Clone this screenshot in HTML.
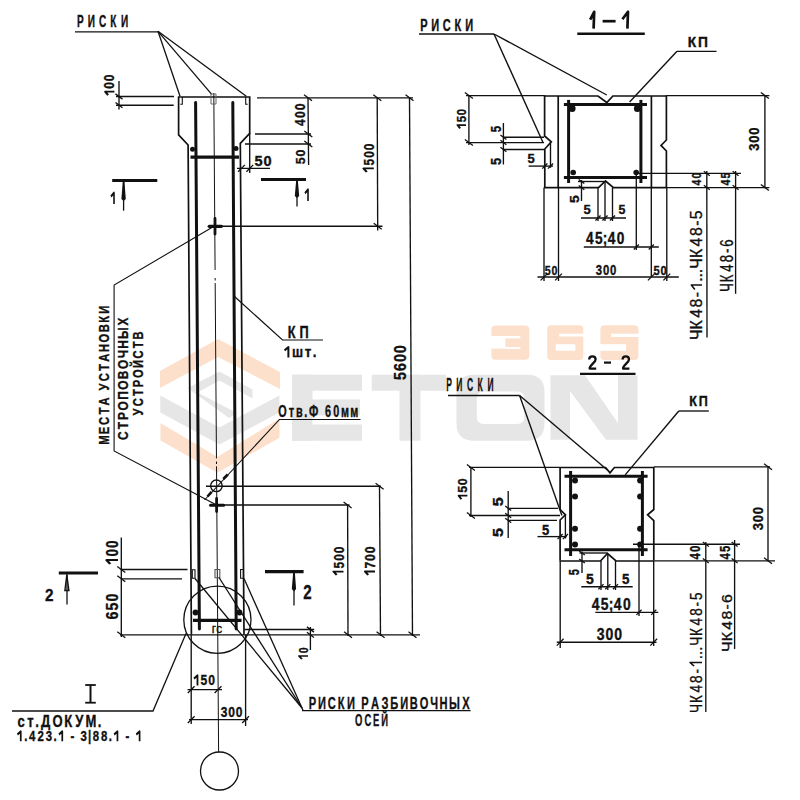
<!DOCTYPE html>
<html><head><meta charset="utf-8"><style>
html,body{margin:0;padding:0;background:#fff;}
svg{display:block;}
text{font-family:"Liberation Sans",sans-serif;stroke:#111;stroke-width:0.35px;}
</style></head><body>
<svg width="800" height="800" viewBox="0 0 800 800">
<rect width="800" height="800" fill="#fff"/>
<path d="M160.0,371.0 L218.0,339.0 L280.0,372.0 L280.0,389.0 L218.0,357.0 L160.0,388.0 Z" fill="#fde0cb"/>
<path d="M160.5,422.9 L217.4,457.0 L279.5,418.5 L279.5,437.8 L217.4,472.8 L160.5,440.4 Z" fill="#fde0cb"/>
<path d="M187.5,388.0 L219.4,371.5 L252.5,389.5 L252.5,398.5 L219.4,380.5 L197.5,392.5 Z" fill="#e6e6e6"/>
<path d="M187.5,388.0 L197.5,392.5 L237.0,413.0 L229.0,418.0 Z" fill="#e6e6e6"/>
<path d="M160.3,395.6 L219.4,427.5 L279.4,395.6 L279.4,412.5 L219.4,444.4 L160.3,412.5 Z" fill="#e6e6e6"/>
<g fill="#e6e6e6"><rect x="292" y="374.7" width="20.5" height="66"/><rect x="292" y="374.7" width="70" height="16"/><rect x="292" y="399.5" width="68" height="16"/><rect x="292" y="424.5" width="70" height="16.2"/><rect x="371.7" y="374.7" width="74.3" height="16"/><rect x="399.5" y="374.7" width="21" height="66"/><path fill-rule="evenodd" d="M474,374.7 L527,374.7 Q544.5,374.7 544.5,392 L544.5,423.5 Q544.5,440.7 527,440.7 L474,440.7 Q456.5,440.7 456.5,423.5 L456.5,392 Q456.5,374.7 474,374.7 Z M484,391.5 Q476.8,391.5 476.8,398.5 L476.8,417 Q476.8,424 484,424 L517,424 Q524.3,424 524.3,417 L524.3,398.5 Q524.3,391.5 517,391.5 Z"/><path d="M550.5,439.7 L550.5,375.2 L585,375.2 L618,423.2 L618,375.2 L637.5,375.2 L637.5,439.7 L606,439.7 L570,391 L570,439.7 Z"/></g>
<g fill="#fde0cb"><rect x="491.4" y="325.4" width="37.9" height="34.3" rx="4"/><rect x="547.2" y="325.2" width="36.1" height="34.8" rx="4"/><rect x="600.4" y="325.2" width="38" height="34.8" rx="4"/></g>
<g fill="#fff"><rect x="490" y="336" width="15.3" height="12.6"/><rect x="505" y="336" width="15.3" height="2.4"/><rect x="505" y="347" width="15.3" height="1.9"/><rect x="559" y="333.7" width="25" height="2.8"/><rect x="555.7" y="344.2" width="19.7" height="6.6" rx="1"/><rect x="611" y="333.7" width="28" height="3.3"/><rect x="599.5" y="344.2" width="26.5" height="6.6"/></g>
<path d="M191.40,634.50 L188.10,145.00 L178.60,134.80 L178.60,97.00 L249.70,97.00 L249.70,133.40 L240.30,143.40 L244.00,634.50" stroke="#111" stroke-width="1.7" fill="none" stroke-linejoin="miter"/>
<line x1="195.60" y1="102.50" x2="199.40" y2="629.00" stroke="#111" stroke-width="3.0" stroke-linecap="round"/>
<line x1="232.80" y1="102.50" x2="236.20" y2="629.00" stroke="#111" stroke-width="3.0" stroke-linecap="round"/>
<line x1="213.80" y1="93.00" x2="215.09" y2="270.00" stroke="#111" stroke-width="1.0" stroke-linecap="butt"/>
<line x1="215.15" y1="278.00" x2="215.17" y2="280.50" stroke="#111" stroke-width="1.0" stroke-linecap="butt"/>
<line x1="215.18" y1="283.00" x2="216.46" y2="458.40" stroke="#111" stroke-width="1.0" stroke-linecap="butt"/>
<line x1="216.48" y1="461.50" x2="216.50" y2="464.00" stroke="#111" stroke-width="1.0" stroke-linecap="butt"/>
<line x1="216.52" y1="466.30" x2="218.60" y2="752.00" stroke="#111" stroke-width="1.0" stroke-linecap="butt"/>
<circle cx="192.50" cy="149.20" r="2.50" fill="#111"/>
<circle cx="236.00" cy="148.60" r="2.50" fill="#111"/>
<line x1="190.50" y1="157.20" x2="239.00" y2="157.20" stroke="#111" stroke-width="3.2" stroke-linecap="butt"/>
<circle cx="195.50" cy="612.50" r="2.90" fill="#111"/>
<circle cx="239.50" cy="612.50" r="2.90" fill="#111"/>
<line x1="193.00" y1="620.30" x2="241.50" y2="620.30" stroke="#111" stroke-width="3.2" stroke-linecap="butt"/>
<path d="M182.30,97.00 L182.30,104.30 L180.30,104.30" stroke="#111" stroke-width="1.1" fill="none" stroke-linejoin="miter"/>
<path d="M245.70,97.00 L245.70,104.30 L247.70,104.30" stroke="#111" stroke-width="1.1" fill="none" stroke-linejoin="miter"/>
<path d="M211.00,94.00 L216.00,94.00 L216.00,104.00 L211.00,104.00 Z" stroke="#666" stroke-width="1.0" fill="none" stroke-linejoin="miter"/>
<path d="M192.30,569.80 L195.00,569.80 L195.00,578.30 L192.30,578.30 Z" stroke="#111" stroke-width="1.1" fill="none" stroke-linejoin="miter"/>
<path d="M215.00,569.50 L219.80,569.50 L219.80,577.80 L215.00,577.80 Z" stroke="#555" stroke-width="1.1" fill="none" stroke-linejoin="miter"/>
<path d="M240.60,569.50 L243.40,569.50 L243.40,578.30 L240.60,578.30 Z" stroke="#111" stroke-width="1.1" fill="none" stroke-linejoin="miter"/>
<line x1="209.20" y1="226.30" x2="221.40" y2="226.30" stroke="#111" stroke-width="3.2" stroke-linecap="round"/>
<line x1="215.00" y1="218.40" x2="215.00" y2="234.10" stroke="#111" stroke-width="2.8" stroke-linecap="round"/>
<line x1="210.50" y1="505.20" x2="223.60" y2="505.20" stroke="#111" stroke-width="3.0" stroke-linecap="round"/>
<line x1="216.60" y1="498.50" x2="216.60" y2="511.50" stroke="#111" stroke-width="2.8" stroke-linecap="round"/>
<circle cx="216.40" cy="485.80" r="5.80" stroke="#111" stroke-width="1.4" fill="none"/>
<line x1="257.00" y1="97.80" x2="413.00" y2="97.80" stroke="#111" stroke-width="1.35" stroke-linecap="butt"/>
<line x1="119.00" y1="81.00" x2="119.00" y2="109.40" stroke="#111" stroke-width="1.35" stroke-linecap="butt"/>
<line x1="116.00" y1="96.50" x2="174.00" y2="96.50" stroke="#111" stroke-width="1.35" stroke-linecap="butt"/>
<line x1="116.00" y1="105.20" x2="173.70" y2="105.20" stroke="#111" stroke-width="1.35" stroke-linecap="butt"/>
<line x1="115.50" y1="93.88" x2="122.50" y2="99.12" stroke="#111" stroke-width="1.3" stroke-linecap="butt"/>
<line x1="115.50" y1="102.58" x2="122.50" y2="107.83" stroke="#111" stroke-width="1.3" stroke-linecap="butt"/>
<line x1="308.00" y1="97.80" x2="308.60" y2="165.00" stroke="#111" stroke-width="1.35" stroke-linecap="butt"/>
<line x1="255.00" y1="134.00" x2="311.00" y2="134.00" stroke="#111" stroke-width="1.35" stroke-linecap="butt"/>
<line x1="245.00" y1="144.00" x2="311.00" y2="144.00" stroke="#111" stroke-width="1.35" stroke-linecap="butt"/>
<line x1="304.00" y1="94.80" x2="312.00" y2="100.80" stroke="#111" stroke-width="1.3" stroke-linecap="butt"/>
<line x1="304.30" y1="131.00" x2="312.30" y2="137.00" stroke="#111" stroke-width="1.3" stroke-linecap="butt"/>
<line x1="304.30" y1="141.00" x2="312.30" y2="147.00" stroke="#111" stroke-width="1.3" stroke-linecap="butt"/>
<line x1="237.00" y1="168.30" x2="270.00" y2="168.30" stroke="#111" stroke-width="1.35" stroke-linecap="butt"/>
<line x1="249.70" y1="133.00" x2="249.70" y2="173.00" stroke="#111" stroke-width="1.35" stroke-linecap="butt"/>
<line x1="238.10" y1="171.70" x2="244.90" y2="164.90" stroke="#111" stroke-width="1.3" stroke-linecap="butt"/>
<line x1="246.40" y1="171.70" x2="253.20" y2="164.90" stroke="#111" stroke-width="1.3" stroke-linecap="butt"/>
<line x1="377.20" y1="97.80" x2="377.70" y2="230.50" stroke="#111" stroke-width="1.35" stroke-linecap="butt"/>
<line x1="373.30" y1="94.80" x2="381.30" y2="100.80" stroke="#111" stroke-width="1.3" stroke-linecap="butt"/>
<line x1="373.70" y1="223.20" x2="381.70" y2="229.20" stroke="#111" stroke-width="1.3" stroke-linecap="butt"/>
<line x1="214.50" y1="226.20" x2="382.50" y2="226.20" stroke="#111" stroke-width="1.35" stroke-linecap="butt"/>
<line x1="409.50" y1="97.80" x2="412.50" y2="636.00" stroke="#111" stroke-width="1.35" stroke-linecap="butt"/>
<line x1="405.50" y1="94.80" x2="413.50" y2="100.80" stroke="#111" stroke-width="1.3" stroke-linecap="butt"/>
<line x1="408.50" y1="631.80" x2="416.50" y2="637.80" stroke="#111" stroke-width="1.3" stroke-linecap="butt"/>
<line x1="112.20" y1="180.50" x2="157.30" y2="180.50" stroke="#111" stroke-width="3.2" stroke-linecap="butt"/>
<line x1="123.60" y1="180.50" x2="123.60" y2="210.70" stroke="#111" stroke-width="1.3" stroke-linecap="butt"/>
<path d="M122.80,181.00 L124.40,181.00 L125.80,199.00 L123.60,201.00 L121.40,199.00 Z" fill="#111"/>
<line x1="261.00" y1="179.50" x2="306.00" y2="179.50" stroke="#111" stroke-width="3.2" stroke-linecap="butt"/>
<line x1="297.00" y1="179.50" x2="297.00" y2="206.50" stroke="#111" stroke-width="1.3" stroke-linecap="butt"/>
<path d="M296.20,180.00 L297.80,180.00 L299.20,196.00 L297.00,198.00 L294.80,196.00 Z" fill="#111"/>
<line x1="75.00" y1="31.80" x2="158.00" y2="31.80" stroke="#111" stroke-width="1.35" stroke-linecap="butt"/>
<line x1="158.00" y1="31.30" x2="180.00" y2="96.30" stroke="#111" stroke-width="1.3" stroke-linecap="butt"/>
<line x1="158.00" y1="31.30" x2="211.30" y2="93.80" stroke="#111" stroke-width="1.3" stroke-linecap="butt"/>
<line x1="158.00" y1="31.30" x2="246.30" y2="96.30" stroke="#111" stroke-width="1.3" stroke-linecap="butt"/>
<path d="M214.50,226.00 L114.10,285.00 L114.10,451.00 L216.60,505.00" stroke="#111" stroke-width="1.1" fill="none" stroke-linejoin="miter"/>
<path d="M234.50,296.50 L282.50,340.00 L323.00,340.00" stroke="#111" stroke-width="1.2" fill="none" stroke-linejoin="miter"/>
<path d="M204.50,500.00 L279.50,419.50 L360.50,419.50" stroke="#111" stroke-width="1.1" fill="none" stroke-linejoin="miter"/>
<line x1="227.80" y1="474.50" x2="223.30" y2="479.00" stroke="#111" stroke-width="2.6" stroke-linecap="butt"/>
<line x1="211.60" y1="491.80" x2="207.50" y2="496.50" stroke="#111" stroke-width="2.6" stroke-linecap="butt"/>
<line x1="206.00" y1="486.20" x2="381.00" y2="486.20" stroke="#111" stroke-width="1.35" stroke-linecap="butt"/>
<line x1="379.50" y1="486.20" x2="380.50" y2="636.00" stroke="#111" stroke-width="1.35" stroke-linecap="butt"/>
<line x1="375.60" y1="483.20" x2="383.60" y2="489.20" stroke="#111" stroke-width="1.3" stroke-linecap="butt"/>
<line x1="376.60" y1="631.80" x2="384.60" y2="637.80" stroke="#111" stroke-width="1.3" stroke-linecap="butt"/>
<line x1="216.60" y1="505.00" x2="349.50" y2="505.00" stroke="#111" stroke-width="1.35" stroke-linecap="butt"/>
<line x1="347.60" y1="505.00" x2="348.00" y2="636.00" stroke="#111" stroke-width="1.35" stroke-linecap="butt"/>
<line x1="343.60" y1="502.00" x2="351.60" y2="508.00" stroke="#111" stroke-width="1.3" stroke-linecap="butt"/>
<line x1="344.00" y1="631.80" x2="352.00" y2="637.80" stroke="#111" stroke-width="1.3" stroke-linecap="butt"/>
<line x1="120.00" y1="634.80" x2="420.00" y2="634.80" stroke="#111" stroke-width="1.35" stroke-linecap="butt"/>
<line x1="244.50" y1="629.50" x2="314.20" y2="629.50" stroke="#111" stroke-width="1.35" stroke-linecap="butt"/>
<line x1="310.40" y1="627.00" x2="310.40" y2="650.00" stroke="#111" stroke-width="1.35" stroke-linecap="butt"/>
<line x1="306.90" y1="626.88" x2="313.90" y2="632.12" stroke="#111" stroke-width="1.3" stroke-linecap="butt"/>
<line x1="306.90" y1="632.17" x2="313.90" y2="637.42" stroke="#111" stroke-width="1.3" stroke-linecap="butt"/>
<line x1="121.30" y1="537.50" x2="121.30" y2="637.00" stroke="#111" stroke-width="1.35" stroke-linecap="butt"/>
<line x1="121.30" y1="569.50" x2="187.50" y2="569.50" stroke="#111" stroke-width="1.35" stroke-linecap="butt"/>
<line x1="121.30" y1="578.80" x2="182.00" y2="578.80" stroke="#111" stroke-width="1.35" stroke-linecap="butt"/>
<line x1="117.30" y1="566.50" x2="125.30" y2="572.50" stroke="#111" stroke-width="1.3" stroke-linecap="butt"/>
<line x1="117.30" y1="575.80" x2="125.30" y2="581.80" stroke="#111" stroke-width="1.3" stroke-linecap="butt"/>
<line x1="117.30" y1="631.80" x2="125.30" y2="637.80" stroke="#111" stroke-width="1.3" stroke-linecap="butt"/>
<line x1="58.80" y1="573.00" x2="98.00" y2="573.00" stroke="#111" stroke-width="3.2" stroke-linecap="butt"/>
<line x1="67.00" y1="573.00" x2="67.00" y2="604.50" stroke="#111" stroke-width="1.3" stroke-linecap="butt"/>
<path d="M66.80,575.00 L64.90,590.50 L68.90,590.50 Z" stroke="#111" stroke-width="1.4" fill="none" stroke-linejoin="miter"/>
<line x1="265.00" y1="571.60" x2="303.60" y2="571.60" stroke="#111" stroke-width="3.2" stroke-linecap="butt"/>
<line x1="294.00" y1="571.60" x2="294.00" y2="605.50" stroke="#111" stroke-width="1.3" stroke-linecap="butt"/>
<path d="M293.20,572.00 L294.80,572.00 L296.10,589.00 L294.00,591.50 L291.80,589.00 Z" fill="#111"/>
<circle cx="217.40" cy="619.80" r="33.60" stroke="#111" stroke-width="1.3" fill="none"/>
<path d="M186.00,633.50 L153.00,711.00 L12.00,711.00" stroke="#111" stroke-width="1.3" fill="none" stroke-linejoin="miter"/>
<line x1="90.50" y1="685.00" x2="90.50" y2="702.70" stroke="#111" stroke-width="2.0" stroke-linecap="butt"/>
<line x1="85.20" y1="685.00" x2="95.80" y2="685.00" stroke="#111" stroke-width="1.8" stroke-linecap="butt"/>
<line x1="85.20" y1="702.70" x2="95.80" y2="702.70" stroke="#111" stroke-width="1.8" stroke-linecap="butt"/>
<line x1="195.00" y1="578.50" x2="302.00" y2="708.00" stroke="#111" stroke-width="1.3" stroke-linecap="butt"/>
<line x1="219.00" y1="577.50" x2="302.00" y2="708.00" stroke="#111" stroke-width="1.3" stroke-linecap="butt"/>
<line x1="244.00" y1="578.50" x2="302.00" y2="708.00" stroke="#111" stroke-width="1.3" stroke-linecap="butt"/>
<line x1="302.00" y1="708.00" x2="303.00" y2="710.60" stroke="#111" stroke-width="1.3" stroke-linecap="butt"/>
<line x1="302.00" y1="710.60" x2="470.60" y2="710.60" stroke="#111" stroke-width="1.2" stroke-linecap="butt"/>
<line x1="191.20" y1="634.80" x2="191.20" y2="724.00" stroke="#111" stroke-width="1.35" stroke-linecap="butt"/>
<line x1="245.60" y1="634.80" x2="245.60" y2="726.00" stroke="#111" stroke-width="1.35" stroke-linecap="butt"/>
<line x1="187.50" y1="689.60" x2="222.00" y2="689.60" stroke="#111" stroke-width="1.35" stroke-linecap="butt"/>
<line x1="187.80" y1="693.00" x2="194.60" y2="686.20" stroke="#111" stroke-width="1.3" stroke-linecap="butt"/>
<line x1="214.60" y1="693.00" x2="221.40" y2="686.20" stroke="#111" stroke-width="1.3" stroke-linecap="butt"/>
<line x1="189.00" y1="719.60" x2="248.00" y2="719.60" stroke="#111" stroke-width="1.35" stroke-linecap="butt"/>
<line x1="187.80" y1="723.00" x2="194.60" y2="716.20" stroke="#111" stroke-width="1.3" stroke-linecap="butt"/>
<line x1="242.20" y1="723.00" x2="249.00" y2="716.20" stroke="#111" stroke-width="1.3" stroke-linecap="butt"/>
<circle cx="219.50" cy="771.00" r="19.00" stroke="#111" stroke-width="1.3" fill="none"/>
<path d="M590.20,19.60 L594.20,11.80 L593.60,28.60" stroke="#111" stroke-width="2.7" fill="none" stroke-linejoin="round"/>
<line x1="602.60" y1="21.20" x2="615.60" y2="21.20" stroke="#111" stroke-width="2.7" stroke-linecap="butt"/>
<path d="M622.40,19.20 L628.00,11.80 L627.40,28.60" stroke="#111" stroke-width="2.7" fill="none" stroke-linejoin="round"/>
<line x1="577.30" y1="33.70" x2="644.80" y2="33.70" stroke="#111" stroke-width="2.4" stroke-linecap="butt"/>
<path d="M544.60,96.00 L598.00,96.00 L606.80,102.50 L612.90,96.00 L666.40,96.00" stroke="#111" stroke-width="1.7" fill="none" stroke-linejoin="miter"/>
<line x1="466.00" y1="95.60" x2="544.60" y2="95.60" stroke="#111" stroke-width="1.35" stroke-linecap="butt"/>
<line x1="666.40" y1="95.60" x2="769.40" y2="95.60" stroke="#111" stroke-width="1.35" stroke-linecap="butt"/>
<path d="M544.60,95.20 L544.60,136.00 L551.30,141.80 L544.80,149.00 L544.80,187.40" stroke="#111" stroke-width="1.7" fill="none" stroke-linejoin="miter"/>
<path d="M666.40,95.20 L666.40,140.00 L661.00,145.40 L666.40,151.00 L666.40,187.40" stroke="#111" stroke-width="1.7" fill="none" stroke-linejoin="miter"/>
<line x1="558.20" y1="96.00" x2="558.20" y2="187.40" stroke="#111" stroke-width="1.7" stroke-linecap="butt"/>
<line x1="651.40" y1="96.00" x2="651.40" y2="187.40" stroke="#111" stroke-width="1.7" stroke-linecap="butt"/>
<path d="M544.00,187.60 L598.50,187.60 L605.50,181.00 L613.50,187.60 L667.00,187.60" stroke="#111" stroke-width="1.7" fill="none" stroke-linejoin="miter"/>
<line x1="667.00" y1="187.60" x2="769.40" y2="187.60" stroke="#111" stroke-width="1.35" stroke-linecap="butt"/>
<line x1="563.90" y1="104.60" x2="647.00" y2="104.60" stroke="#111" stroke-width="3.0" stroke-linecap="butt"/>
<line x1="563.90" y1="177.40" x2="647.00" y2="177.40" stroke="#111" stroke-width="3.0" stroke-linecap="butt"/>
<line x1="568.60" y1="99.90" x2="568.60" y2="183.00" stroke="#111" stroke-width="3.0" stroke-linecap="butt"/>
<line x1="640.90" y1="99.90" x2="640.90" y2="183.00" stroke="#111" stroke-width="3.0" stroke-linecap="butt"/>
<circle cx="572.10" cy="108.60" r="3.50" fill="#111"/>
<circle cx="637.40" cy="108.60" r="3.50" fill="#111"/>
<circle cx="573.20" cy="172.50" r="2.80" fill="#111"/>
<circle cx="636.20" cy="172.50" r="2.80" fill="#111"/>
<line x1="419.00" y1="34.00" x2="494.00" y2="34.00" stroke="#111" stroke-width="1.35" stroke-linecap="butt"/>
<line x1="494.00" y1="34.00" x2="606.80" y2="95.00" stroke="#111" stroke-width="1.4" stroke-linecap="butt"/>
<line x1="494.00" y1="34.00" x2="543.00" y2="142.50" stroke="#111" stroke-width="1.4" stroke-linecap="butt"/>
<line x1="677.00" y1="51.30" x2="716.50" y2="51.30" stroke="#111" stroke-width="1.35" stroke-linecap="butt"/>
<line x1="677.00" y1="51.30" x2="629.60" y2="102.00" stroke="#111" stroke-width="1.4" stroke-linecap="butt"/>
<line x1="468.90" y1="95.40" x2="468.90" y2="145.00" stroke="#111" stroke-width="1.35" stroke-linecap="butt"/>
<line x1="464.90" y1="92.60" x2="472.90" y2="98.60" stroke="#111" stroke-width="1.3" stroke-linecap="butt"/>
<line x1="464.90" y1="139.60" x2="472.90" y2="145.60" stroke="#111" stroke-width="1.3" stroke-linecap="butt"/>
<line x1="466.00" y1="142.60" x2="544.00" y2="142.60" stroke="#111" stroke-width="1.35" stroke-linecap="butt"/>
<line x1="503.40" y1="123.00" x2="503.40" y2="164.50" stroke="#111" stroke-width="1.35" stroke-linecap="butt"/>
<line x1="503.40" y1="137.20" x2="544.00" y2="137.20" stroke="#111" stroke-width="1.35" stroke-linecap="butt"/>
<line x1="503.40" y1="149.50" x2="544.00" y2="149.50" stroke="#111" stroke-width="1.35" stroke-linecap="butt"/>
<line x1="500.40" y1="134.95" x2="506.40" y2="139.45" stroke="#111" stroke-width="1.3" stroke-linecap="butt"/>
<line x1="500.40" y1="140.35" x2="506.40" y2="144.85" stroke="#111" stroke-width="1.3" stroke-linecap="butt"/>
<line x1="500.40" y1="147.25" x2="506.40" y2="151.75" stroke="#111" stroke-width="1.3" stroke-linecap="butt"/>
<line x1="528.60" y1="166.10" x2="553.00" y2="166.10" stroke="#111" stroke-width="1.35" stroke-linecap="butt"/>
<line x1="550.50" y1="142.00" x2="550.50" y2="167.80" stroke="#111" stroke-width="1.35" stroke-linecap="butt"/>
<line x1="542.25" y1="168.65" x2="547.35" y2="163.55" stroke="#111" stroke-width="1.3" stroke-linecap="butt"/>
<line x1="547.95" y1="168.65" x2="553.05" y2="163.55" stroke="#111" stroke-width="1.3" stroke-linecap="butt"/>
<line x1="764.90" y1="95.40" x2="764.90" y2="187.60" stroke="#111" stroke-width="1.35" stroke-linecap="butt"/>
<line x1="760.90" y1="92.60" x2="768.90" y2="98.60" stroke="#111" stroke-width="1.3" stroke-linecap="butt"/>
<line x1="760.90" y1="184.60" x2="768.90" y2="190.60" stroke="#111" stroke-width="1.3" stroke-linecap="butt"/>
<line x1="637.00" y1="173.40" x2="741.00" y2="173.40" stroke="#111" stroke-width="1.35" stroke-linecap="butt"/>
<line x1="706.80" y1="171.00" x2="707.00" y2="337.50" stroke="#111" stroke-width="1.35" stroke-linecap="butt"/>
<line x1="735.60" y1="171.00" x2="735.60" y2="293.80" stroke="#111" stroke-width="1.35" stroke-linecap="butt"/>
<line x1="703.80" y1="171.15" x2="709.80" y2="175.65" stroke="#111" stroke-width="1.3" stroke-linecap="butt"/>
<line x1="703.80" y1="185.35" x2="709.80" y2="189.85" stroke="#111" stroke-width="1.3" stroke-linecap="butt"/>
<line x1="732.60" y1="171.15" x2="738.60" y2="175.65" stroke="#111" stroke-width="1.3" stroke-linecap="butt"/>
<line x1="732.60" y1="185.35" x2="738.60" y2="189.85" stroke="#111" stroke-width="1.3" stroke-linecap="butt"/>
<line x1="544.00" y1="187.40" x2="544.00" y2="281.00" stroke="#111" stroke-width="1.35" stroke-linecap="butt"/>
<line x1="558.50" y1="187.40" x2="558.50" y2="281.00" stroke="#111" stroke-width="1.35" stroke-linecap="butt"/>
<line x1="598.00" y1="187.40" x2="598.00" y2="221.00" stroke="#111" stroke-width="1.35" stroke-linecap="butt"/>
<line x1="605.00" y1="181.30" x2="605.00" y2="221.00" stroke="#111" stroke-width="1.35" stroke-linecap="butt"/>
<line x1="612.50" y1="187.40" x2="612.50" y2="221.00" stroke="#111" stroke-width="1.35" stroke-linecap="butt"/>
<line x1="636.30" y1="175.00" x2="636.30" y2="250.00" stroke="#111" stroke-width="1.35" stroke-linecap="butt"/>
<line x1="651.30" y1="187.40" x2="651.30" y2="276.00" stroke="#111" stroke-width="1.35" stroke-linecap="butt"/>
<line x1="666.80" y1="187.40" x2="666.80" y2="281.00" stroke="#111" stroke-width="1.35" stroke-linecap="butt"/>
<line x1="578.00" y1="181.50" x2="604.00" y2="181.50" stroke="#111" stroke-width="1.35" stroke-linecap="butt"/>
<line x1="581.50" y1="180.00" x2="581.50" y2="201.00" stroke="#111" stroke-width="1.35" stroke-linecap="butt"/>
<line x1="578.70" y1="179.40" x2="584.30" y2="183.60" stroke="#111" stroke-width="1.3" stroke-linecap="butt"/>
<line x1="578.70" y1="185.50" x2="584.30" y2="189.70" stroke="#111" stroke-width="1.3" stroke-linecap="butt"/>
<line x1="581.00" y1="218.00" x2="626.00" y2="218.00" stroke="#111" stroke-width="1.35" stroke-linecap="butt"/>
<line x1="595.45" y1="220.55" x2="600.55" y2="215.45" stroke="#111" stroke-width="1.3" stroke-linecap="butt"/>
<line x1="602.45" y1="220.55" x2="607.55" y2="215.45" stroke="#111" stroke-width="1.3" stroke-linecap="butt"/>
<line x1="609.95" y1="220.55" x2="615.05" y2="215.45" stroke="#111" stroke-width="1.3" stroke-linecap="butt"/>
<line x1="583.80" y1="247.00" x2="658.80" y2="247.00" stroke="#111" stroke-width="1.35" stroke-linecap="butt"/>
<line x1="633.75" y1="249.55" x2="638.85" y2="244.45" stroke="#111" stroke-width="1.3" stroke-linecap="butt"/>
<line x1="648.75" y1="249.55" x2="653.85" y2="244.45" stroke="#111" stroke-width="1.3" stroke-linecap="butt"/>
<line x1="537.50" y1="277.00" x2="678.80" y2="277.00" stroke="#111" stroke-width="1.35" stroke-linecap="butt"/>
<line x1="540.60" y1="280.40" x2="547.40" y2="273.60" stroke="#111" stroke-width="1.3" stroke-linecap="butt"/>
<line x1="555.10" y1="280.40" x2="561.90" y2="273.60" stroke="#111" stroke-width="1.3" stroke-linecap="butt"/>
<line x1="647.90" y1="280.40" x2="654.70" y2="273.60" stroke="#111" stroke-width="1.3" stroke-linecap="butt"/>
<line x1="663.40" y1="280.40" x2="670.20" y2="273.60" stroke="#111" stroke-width="1.3" stroke-linecap="butt"/>
<path d="M589.2,359.6 C589.2,355.4 595.6,355.4 595.6,359.6 C595.6,362.6 589.6,365 589.6,368.6 L596.2,368.6" stroke="#111" stroke-width="2.3" fill="none" stroke-linejoin="round"/>
<line x1="604.00" y1="362.60" x2="611.00" y2="362.60" stroke="#111" stroke-width="2.2" stroke-linecap="butt"/>
<path d="M622.6,359.6 C622.6,355.4 629,355.4 629,359.6 C629,362.6 623,365 623,368.6 L629.4,368.6" stroke="#111" stroke-width="2.3" fill="none" stroke-linejoin="round"/>
<line x1="580.00" y1="373.80" x2="635.50" y2="373.80" stroke="#111" stroke-width="2.2" stroke-linecap="butt"/>
<path d="M560.10,467.50 L605.60,467.50 L610.00,472.80 L614.40,467.50 L653.80,467.50" stroke="#111" stroke-width="1.7" fill="none" stroke-linejoin="miter"/>
<line x1="469.00" y1="467.30" x2="560.00" y2="467.30" stroke="#111" stroke-width="1.35" stroke-linecap="butt"/>
<line x1="653.80" y1="466.80" x2="770.00" y2="466.80" stroke="#111" stroke-width="1.35" stroke-linecap="butt"/>
<path d="M560.10,467.00 L560.10,509.50 L565.40,514.80 L560.10,520.00 L560.10,560.60" stroke="#111" stroke-width="1.7" fill="none" stroke-linejoin="miter"/>
<path d="M653.80,467.00 L653.80,509.50 L647.60,514.80 L653.80,520.50 L653.80,560.60" stroke="#111" stroke-width="1.7" fill="none" stroke-linejoin="miter"/>
<path d="M559.50,561.00 L600.50,561.00 L607.50,553.50 L616.00,561.00 L654.50,561.00" stroke="#111" stroke-width="1.7" fill="none" stroke-linejoin="miter"/>
<line x1="654.50" y1="560.80" x2="775.00" y2="560.80" stroke="#111" stroke-width="1.35" stroke-linecap="butt"/>
<line x1="564.50" y1="476.30" x2="647.60" y2="476.30" stroke="#111" stroke-width="3.0" stroke-linecap="butt"/>
<line x1="564.50" y1="549.80" x2="647.60" y2="549.80" stroke="#111" stroke-width="3.0" stroke-linecap="butt"/>
<line x1="570.60" y1="471.00" x2="570.60" y2="556.00" stroke="#111" stroke-width="3.0" stroke-linecap="butt"/>
<line x1="642.40" y1="471.00" x2="642.40" y2="556.00" stroke="#111" stroke-width="3.0" stroke-linecap="butt"/>
<circle cx="575.00" cy="480.60" r="3.00" fill="#111"/>
<circle cx="640.10" cy="480.60" r="3.00" fill="#111"/>
<circle cx="575.00" cy="496.40" r="3.00" fill="#111"/>
<circle cx="640.10" cy="496.40" r="3.00" fill="#111"/>
<circle cx="575.00" cy="528.80" r="3.00" fill="#111"/>
<circle cx="640.10" cy="528.80" r="3.00" fill="#111"/>
<circle cx="575.00" cy="544.50" r="3.00" fill="#111"/>
<circle cx="640.10" cy="544.50" r="3.00" fill="#111"/>
<line x1="448.00" y1="395.50" x2="519.60" y2="395.50" stroke="#111" stroke-width="1.35" stroke-linecap="butt"/>
<line x1="519.60" y1="395.50" x2="607.40" y2="470.00" stroke="#111" stroke-width="1.4" stroke-linecap="butt"/>
<line x1="519.60" y1="395.50" x2="561.90" y2="515.50" stroke="#111" stroke-width="1.4" stroke-linecap="butt"/>
<line x1="678.80" y1="411.00" x2="708.80" y2="411.00" stroke="#111" stroke-width="1.35" stroke-linecap="butt"/>
<line x1="678.80" y1="411.00" x2="625.20" y2="474.90" stroke="#111" stroke-width="1.4" stroke-linecap="butt"/>
<line x1="470.90" y1="467.50" x2="470.90" y2="517.00" stroke="#111" stroke-width="1.35" stroke-linecap="butt"/>
<line x1="466.90" y1="464.50" x2="474.90" y2="470.50" stroke="#111" stroke-width="1.3" stroke-linecap="butt"/>
<line x1="466.90" y1="512.50" x2="474.90" y2="518.50" stroke="#111" stroke-width="1.3" stroke-linecap="butt"/>
<line x1="469.00" y1="515.50" x2="560.00" y2="515.50" stroke="#111" stroke-width="1.35" stroke-linecap="butt"/>
<line x1="508.20" y1="491.00" x2="508.20" y2="538.00" stroke="#111" stroke-width="1.35" stroke-linecap="butt"/>
<line x1="508.20" y1="508.30" x2="558.00" y2="508.30" stroke="#111" stroke-width="1.35" stroke-linecap="butt"/>
<line x1="508.20" y1="520.40" x2="557.00" y2="520.40" stroke="#111" stroke-width="1.35" stroke-linecap="butt"/>
<line x1="505.20" y1="506.05" x2="511.20" y2="510.55" stroke="#111" stroke-width="1.3" stroke-linecap="butt"/>
<line x1="505.20" y1="513.25" x2="511.20" y2="517.75" stroke="#111" stroke-width="1.3" stroke-linecap="butt"/>
<line x1="505.20" y1="518.15" x2="511.20" y2="522.65" stroke="#111" stroke-width="1.3" stroke-linecap="butt"/>
<line x1="537.50" y1="536.60" x2="566.70" y2="536.60" stroke="#111" stroke-width="1.35" stroke-linecap="butt"/>
<line x1="565.40" y1="515.00" x2="565.40" y2="538.50" stroke="#111" stroke-width="1.35" stroke-linecap="butt"/>
<line x1="557.55" y1="539.15" x2="562.65" y2="534.05" stroke="#111" stroke-width="1.3" stroke-linecap="butt"/>
<line x1="562.85" y1="539.15" x2="567.95" y2="534.05" stroke="#111" stroke-width="1.3" stroke-linecap="butt"/>
<line x1="768.00" y1="466.30" x2="768.00" y2="561.30" stroke="#111" stroke-width="1.35" stroke-linecap="butt"/>
<line x1="764.00" y1="463.80" x2="772.00" y2="469.80" stroke="#111" stroke-width="1.3" stroke-linecap="butt"/>
<line x1="764.00" y1="557.80" x2="772.00" y2="563.80" stroke="#111" stroke-width="1.3" stroke-linecap="butt"/>
<line x1="633.00" y1="544.20" x2="740.00" y2="544.20" stroke="#111" stroke-width="1.35" stroke-linecap="butt"/>
<line x1="705.80" y1="542.00" x2="705.80" y2="712.00" stroke="#111" stroke-width="1.35" stroke-linecap="butt"/>
<line x1="734.60" y1="540.00" x2="734.60" y2="649.00" stroke="#111" stroke-width="1.35" stroke-linecap="butt"/>
<line x1="702.80" y1="541.95" x2="708.80" y2="546.45" stroke="#111" stroke-width="1.3" stroke-linecap="butt"/>
<line x1="702.80" y1="558.55" x2="708.80" y2="563.05" stroke="#111" stroke-width="1.3" stroke-linecap="butt"/>
<line x1="731.60" y1="541.95" x2="737.60" y2="546.45" stroke="#111" stroke-width="1.3" stroke-linecap="butt"/>
<line x1="731.60" y1="558.55" x2="737.60" y2="563.05" stroke="#111" stroke-width="1.3" stroke-linecap="butt"/>
<line x1="560.20" y1="561.00" x2="560.20" y2="648.00" stroke="#111" stroke-width="1.35" stroke-linecap="butt"/>
<line x1="653.70" y1="560.60" x2="653.70" y2="646.00" stroke="#111" stroke-width="1.35" stroke-linecap="butt"/>
<line x1="601.00" y1="561.00" x2="601.00" y2="590.00" stroke="#111" stroke-width="1.35" stroke-linecap="butt"/>
<line x1="607.80" y1="554.00" x2="607.80" y2="590.00" stroke="#111" stroke-width="1.35" stroke-linecap="butt"/>
<line x1="615.50" y1="561.00" x2="615.50" y2="590.00" stroke="#111" stroke-width="1.35" stroke-linecap="butt"/>
<line x1="639.00" y1="545.00" x2="639.00" y2="616.00" stroke="#111" stroke-width="1.35" stroke-linecap="butt"/>
<line x1="579.50" y1="553.00" x2="607.50" y2="553.00" stroke="#111" stroke-width="1.35" stroke-linecap="butt"/>
<line x1="582.00" y1="551.50" x2="582.00" y2="573.00" stroke="#111" stroke-width="1.35" stroke-linecap="butt"/>
<line x1="579.20" y1="550.90" x2="584.80" y2="555.10" stroke="#111" stroke-width="1.3" stroke-linecap="butt"/>
<line x1="579.20" y1="558.90" x2="584.80" y2="563.10" stroke="#111" stroke-width="1.3" stroke-linecap="butt"/>
<line x1="581.30" y1="586.70" x2="632.70" y2="586.70" stroke="#111" stroke-width="1.35" stroke-linecap="butt"/>
<line x1="598.45" y1="589.25" x2="603.55" y2="584.15" stroke="#111" stroke-width="1.3" stroke-linecap="butt"/>
<line x1="605.25" y1="589.25" x2="610.35" y2="584.15" stroke="#111" stroke-width="1.3" stroke-linecap="butt"/>
<line x1="612.95" y1="589.25" x2="618.05" y2="584.15" stroke="#111" stroke-width="1.3" stroke-linecap="butt"/>
<line x1="595.30" y1="612.30" x2="658.30" y2="612.30" stroke="#111" stroke-width="1.35" stroke-linecap="butt"/>
<line x1="636.45" y1="614.85" x2="641.55" y2="609.75" stroke="#111" stroke-width="1.3" stroke-linecap="butt"/>
<line x1="651.15" y1="614.85" x2="656.25" y2="609.75" stroke="#111" stroke-width="1.3" stroke-linecap="butt"/>
<line x1="556.80" y1="642.20" x2="656.50" y2="642.20" stroke="#111" stroke-width="1.35" stroke-linecap="butt"/>
<line x1="556.80" y1="645.60" x2="563.60" y2="638.80" stroke="#111" stroke-width="1.3" stroke-linecap="butt"/>
<line x1="650.30" y1="645.60" x2="657.10" y2="638.80" stroke="#111" stroke-width="1.3" stroke-linecap="butt"/>
<text transform="scale(0.9654,1)" x="219.37 224.06" y="633.00" font-size="12.26" font-weight="normal" fill="#111" xml:space="preserve">гс</text>
<text transform="translate(114.40,95.60) rotate(-90) scale(0.8708,1)" x="7.88 16.45" y="0.00" font-size="13.86" font-weight="bold" fill="#111" xml:space="preserve">00</text>
<path transform="translate(114.40,95.60) rotate(-90) scale(0.8708,1)" d="M0.52,-6.30 L4.56,-9.22 L4.56,0.00" stroke="#111" stroke-width="2.08" fill="none" stroke-linejoin="round"/>
<text transform="translate(305.00,126.00) rotate(-90) scale(0.8122,1)" x="-0.15 9.87 19.29" y="0.00" font-size="15.00" font-weight="bold" fill="#111" xml:space="preserve">400</text>
<text transform="translate(304.70,163.80) rotate(-90) scale(0.9249,1)" x="-0.40 7.94" y="0.00" font-size="13.43" font-weight="bold" fill="#111" xml:space="preserve">50</text>
<text transform="scale(1.0182,1)" x="250.02 258.73" y="166.00" font-size="14.29" font-weight="bold" fill="#111" xml:space="preserve">50</text>
<text transform="translate(373.80,172.40) rotate(-90) scale(0.7717,1)" x="9.03 18.98 28.78" y="0.00" font-size="15.43" font-weight="bold" fill="#111" xml:space="preserve">500</text>
<path transform="translate(373.80,172.40) rotate(-90) scale(0.7717,1)" d="M0.58,-7.01 L5.08,-10.26 L5.08,0.00" stroke="#111" stroke-width="2.31" fill="none" stroke-linejoin="round"/>
<text transform="translate(405.90,379.50) rotate(-90) scale(0.8891,1)" x="-0.48 9.62 19.56 29.51" y="0.00" font-size="16.14" font-weight="bold" fill="#111" xml:space="preserve">5600</text>
<path transform="scale(0.6365,1)" d="M174.24,196.41 L179.11,192.88 L179.11,204.00" stroke="#111" stroke-width="2.51" fill="none" stroke-linejoin="round"/>
<path transform="scale(0.6206,1)" d="M491.32,193.21 L496.32,189.60 L496.32,201.00" stroke="#111" stroke-width="2.57" fill="none" stroke-linejoin="round"/>
<text transform="scale(0.6311,1)" x="121.86 138.97 156.72 174.78 191.58" y="27.50" font-size="15.86" font-weight="bold" fill="#111" xml:space="preserve">РИСКИ</text>
<text transform="translate(109.40,444.00) rotate(-90) scale(0.7449,1)" x="-0.91 13.26 25.61 39.47 51.82 65.84 71.69 84.19 98.06 110.40 123.51 136.31 150.03 162.83 174.73" y="0.00" font-size="15.14" font-weight="bold" fill="#111" xml:space="preserve">МЕСТА УСТАНОВКИ</text>
<text transform="translate(127.80,439.50) rotate(-90) scale(0.7881,1)" x="-0.61 13.07 24.63 36.94 50.47 63.08 76.61 89.53 103.21 115.22 127.53 144.69" y="0.00" font-size="15.14" font-weight="bold" fill="#111" xml:space="preserve">СТРОПОВОЧНЫХ</text>
<text transform="translate(143.00,415.50) rotate(-90) scale(0.7288,1)" x="0.00 12.69 26.77 38.70 51.39 65.31 78.31 92.38 104.31" y="0.00" font-size="15.29" font-weight="bold" fill="#111" xml:space="preserve">УСТРОЙСТВ</text>
<text transform="scale(0.8067,1)" x="356.69 371.35" y="338.50" font-size="15.86" font-weight="bold" fill="#111" xml:space="preserve">КП</text>
<text transform="scale(0.8639,1)" x="338.08 352.66 361.98" y="357.40" font-size="15.43" font-weight="bold" fill="#111" xml:space="preserve">шт.</text>
<path transform="scale(0.8639,1)" d="M329.34,350.39 L333.83,347.14 L333.83,357.40" stroke="#111" stroke-width="2.31" fill="none" stroke-linejoin="round"/>
<text transform="scale(0.6592,1)" x="422.00 438.01 448.93 461.66 468.81 486.47 493.15 505.39 517.13 531.34" y="417.00" font-size="16.43" font-weight="bold" fill="#111" xml:space="preserve">Отв.Ф 60мм</text>
<text transform="translate(375.00,575.50) rotate(-90) scale(0.8104,1)" x="8.52 17.95 27.37" y="0.00" font-size="15.00" font-weight="bold" fill="#111" xml:space="preserve">700</text>
<path transform="translate(375.00,575.50) rotate(-90) scale(0.8104,1)" d="M0.56,-6.82 L4.94,-9.97 L4.94,0.00" stroke="#111" stroke-width="2.25" fill="none" stroke-linejoin="round"/>
<text transform="translate(343.50,575.50) rotate(-90) scale(0.8021,1)" x="8.69 18.29 27.73" y="0.00" font-size="15.00" font-weight="bold" fill="#111" xml:space="preserve">500</text>
<path transform="translate(343.50,575.50) rotate(-90) scale(0.8021,1)" d="M0.56,-6.82 L4.94,-9.97 L4.94,0.00" stroke="#111" stroke-width="2.25" fill="none" stroke-linejoin="round"/>
<text transform="translate(308.00,659.50) rotate(-90) scale(0.7909,1)" x="7.81" y="0.00" font-size="13.43" font-weight="bold" fill="#111" xml:space="preserve">0</text>
<path transform="translate(308.00,659.50) rotate(-90) scale(0.7909,1)" d="M0.50,-6.10 L4.42,-8.93 L4.42,0.00" stroke="#111" stroke-width="2.01" fill="none" stroke-linejoin="round"/>
<text transform="translate(118.00,564.50) rotate(-90) scale(0.7909,1)" x="9.97 20.80" y="0.00" font-size="17.14" font-weight="bold" fill="#111" xml:space="preserve">00</text>
<path transform="translate(118.00,564.50) rotate(-90) scale(0.7909,1)" d="M0.64,-7.79 L5.64,-11.40 L5.64,0.00" stroke="#111" stroke-width="2.57" fill="none" stroke-linejoin="round"/>
<text transform="translate(118.00,619.00) rotate(-90) scale(0.8340,1)" x="-0.51 10.19 21.06" y="0.00" font-size="17.14" font-weight="bold" fill="#111" xml:space="preserve">650</text>
<text transform="scale(0.8929,1)" x="50.45" y="601.00" font-size="17.14" font-weight="bold" fill="#111" xml:space="preserve">2</text>
<text transform="scale(0.7831,1)" x="387.13" y="599.50" font-size="19.29" font-weight="bold" fill="#111" xml:space="preserve">2</text>
<text transform="scale(0.7606,1)" x="23.15 35.68 46.49 53.88 68.98 84.42 98.84 112.57 128.53" y="727.40" font-size="17.14" font-weight="bold" fill="#111" xml:space="preserve">ст.ДОКУМ.</text>
<text transform="scale(0.7617,1)" x="31.78 38.09 49.35 60.15 70.36 87.18 92.40 100.21 105.58 115.64 121.65 132.46 142.82 159.63 164.86 172.66" y="741.30" font-size="15.00" font-weight="bold" fill="#111" xml:space="preserve">.423. - 3|88. - </text>
<path transform="scale(0.7617,1)" d="M22.88,734.48 L27.25,731.32 L27.25,741.30 M77.39,734.48 L81.76,731.32 L81.76,741.30 M149.84,734.48 L154.21,731.32 L154.21,741.30 M178.90,734.48 L183.27,731.32 L183.27,741.30" stroke="#111" stroke-width="2.25" fill="none" stroke-linejoin="round"/>
<text transform="scale(0.6473,1)" x="476.96 491.36 506.43 521.85 535.90 551.67 558.27 573.34 589.45 602.99 618.23 632.97 648.39 664.67 679.06 693.80 714.02" y="708.70" font-size="17.14" font-weight="bold" fill="#111" xml:space="preserve">РИСКИ РАЗБИВОЧНЫХ</text>
<text transform="scale(0.5888,1)" x="603.10 618.86 633.67 647.35" y="725.60" font-size="16.00" font-weight="bold" fill="#111" xml:space="preserve">ОСЕЙ</text>
<text transform="scale(0.8147,1)" x="246.09 255.56" y="685.40" font-size="14.86" font-weight="bold" fill="#111" xml:space="preserve">50</text>
<path transform="scale(0.8147,1)" d="M238.07,678.65 L242.40,675.52 L242.40,685.40" stroke="#111" stroke-width="2.23" fill="none" stroke-linejoin="round"/>
<text transform="scale(0.8419,1)" x="262.22 271.12 280.02" y="717.00" font-size="14.29" font-weight="bold" fill="#111" xml:space="preserve">300</text>
<text transform="scale(0.7004,1)" x="600.12 615.83 632.17 648.82 664.22" y="31.00" font-size="15.71" font-weight="bold" fill="#111" xml:space="preserve">РИСКИ</text>
<text transform="scale(0.9655,1)" x="712.34 722.82" y="47.00" font-size="14.29" font-weight="bold" fill="#111" xml:space="preserve">КП</text>
<text transform="translate(466.00,128.80) rotate(-90) scale(0.8854,1)" x="7.28 15.34" y="0.00" font-size="12.86" font-weight="bold" fill="#111" xml:space="preserve">50</text>
<path transform="translate(466.00,128.80) rotate(-90) scale(0.8854,1)" d="M0.48,-5.84 L4.23,-8.55 L4.23,0.00" stroke="#111" stroke-width="1.93" fill="none" stroke-linejoin="round"/>
<text transform="translate(501.40,132.00) rotate(-90) scale(0.7824,1)" x="-0.44" y="0.00" font-size="14.57" font-weight="bold" fill="#111" xml:space="preserve">5</text>
<text transform="translate(501.40,164.50) rotate(-90) scale(0.8922,1)" x="-0.44" y="0.00" font-size="14.57" font-weight="bold" fill="#111" xml:space="preserve">5</text>
<text transform="scale(1.0225,1)" x="515.82" y="162.90" font-size="12.71" font-weight="bold" fill="#111" xml:space="preserve">5</text>
<text transform="translate(759.00,150.50) rotate(-90) scale(0.9128,1)" x="-0.29 8.47 17.22" y="0.00" font-size="14.29" font-weight="bold" fill="#111" xml:space="preserve">300</text>
<text transform="translate(700.80,185.40) rotate(-90) scale(0.8407,1)" x="-0.13 8.21" y="0.00" font-size="12.57" font-weight="bold" fill="#111" xml:space="preserve">40</text>
<text transform="translate(730.00,185.40) rotate(-90) scale(0.7635,1)" x="-0.14 9.05" y="0.00" font-size="13.57" font-weight="bold" fill="#111" xml:space="preserve">45</text>
<text transform="translate(702.00,339.00) rotate(-90) scale(1.0093,1)" x="-1.10 9.53 20.95 31.26 41.42 56.71 60.90 65.08 69.58 80.21 91.63 101.94 112.10 118.65" y="0.00" font-size="15.71" font-weight="normal" fill="#111" xml:space="preserve">ЧК48-...ЧК48-5</text>
<path transform="translate(702.00,339.00) rotate(-90) scale(1.0093,1)" d="M49.15,-7.14 L53.43,-10.69 L53.43,0.00" stroke="#111" stroke-width="1.57" fill="none" stroke-linejoin="round"/>
<text transform="translate(732.50,291.00) rotate(-90) scale(0.7385,1)" x="-1.25 11.92 25.98 38.79 51.43 59.78" y="0.00" font-size="17.86" font-weight="normal" fill="#111" xml:space="preserve">ЧК48-6</text>
<text transform="translate(578.50,202.50) rotate(-90) scale(1.0889,1)" x="-0.39" y="0.00" font-size="12.86" font-weight="bold" fill="#111" xml:space="preserve">5</text>
<text transform="scale(1.0341,1)" x="564.37" y="213.80" font-size="12.57" font-weight="bold" fill="#111" xml:space="preserve">5</text>
<text transform="scale(0.9864,1)" x="626.98" y="213.80" font-size="12.57" font-weight="bold" fill="#111" xml:space="preserve">5</text>
<text transform="scale(0.8454,1)" x="693.04 703.73 712.98 718.83 729.52" y="243.80" font-size="16.14" font-weight="bold" fill="#111" xml:space="preserve">45;40</text>
<text transform="scale(0.8296,1)" x="656.53 664.70" y="275.00" font-size="12.86" font-weight="bold" fill="#111" xml:space="preserve">50</text>
<text transform="scale(0.7946,1)" x="749.78 758.80 767.81" y="275.00" font-size="14.29" font-weight="bold" fill="#111" xml:space="preserve">300</text>
<text transform="scale(0.8689,1)" x="752.05 760.14" y="275.00" font-size="12.86" font-weight="bold" fill="#111" xml:space="preserve">50</text>
<text transform="scale(0.4500,1)" x="991.54 1014.16 1037.54 1061.30 1083.55" y="391.20" font-size="18.86" font-weight="bold" fill="#111" xml:space="preserve">РИСКИ</text>
<text transform="scale(0.8810,1)" x="782.31 793.04" y="406.00" font-size="14.29" font-weight="bold" fill="#111" xml:space="preserve">КП</text>
<text transform="translate(467.40,499.70) rotate(-90) scale(0.9410,1)" x="7.35 15.48" y="0.00" font-size="13.14" font-weight="bold" fill="#111" xml:space="preserve">50</text>
<path transform="translate(467.40,499.70) rotate(-90) scale(0.9410,1)" d="M0.49,-5.97 L4.32,-8.74 L4.32,0.00" stroke="#111" stroke-width="1.97" fill="none" stroke-linejoin="round"/>
<text transform="translate(503.40,505.70) rotate(-90) scale(1.1571,1)" x="-0.42" y="0.00" font-size="14.00" font-weight="bold" fill="#111" xml:space="preserve">5</text>
<text transform="translate(503.40,536.60) rotate(-90) scale(1.1571,1)" x="-0.42" y="0.00" font-size="14.00" font-weight="bold" fill="#111" xml:space="preserve">5</text>
<text transform="scale(0.9286,1)" x="583.70" y="535.00" font-size="14.00" font-weight="bold" fill="#111" xml:space="preserve">5</text>
<text transform="translate(762.50,530.00) rotate(-90) scale(0.9128,1)" x="-0.29 8.47 17.22" y="0.00" font-size="14.29" font-weight="bold" fill="#111" xml:space="preserve">300</text>
<text transform="translate(699.50,559.50) rotate(-90) scale(0.8010,1)" x="-0.14 9.43" y="0.00" font-size="14.29" font-weight="bold" fill="#111" xml:space="preserve">40</text>
<text transform="translate(729.50,559.50) rotate(-90) scale(0.7757,1)" x="-0.15 9.68" y="0.00" font-size="14.57" font-weight="bold" fill="#111" xml:space="preserve">45</text>
<text transform="translate(702.00,712.00) rotate(-90) scale(0.7798,1)" x="-1.22 11.42 24.94 37.23 49.35 68.02 73.52 79.01 84.86 97.50 111.02 123.31 135.43 143.55" y="0.00" font-size="17.43" font-weight="normal" fill="#111" xml:space="preserve">ЧК48-...ЧК48-5</text>
<path transform="translate(702.00,712.00) rotate(-90) scale(0.7798,1)" d="M58.78,-7.92 L63.53,-11.85 L63.53,0.00" stroke="#111" stroke-width="1.74" fill="none" stroke-linejoin="round"/>
<text transform="translate(731.80,650.80) rotate(-90) scale(1.0598,1)" x="-1.05 8.98 19.76 29.48 39.06 45.04" y="0.00" font-size="15.00" font-weight="normal" fill="#111" xml:space="preserve">ЧК48-6</text>
<text transform="translate(578.50,575.00) rotate(-90) scale(0.7700,1)" x="-0.43" y="0.00" font-size="14.29" font-weight="bold" fill="#111" xml:space="preserve">5</text>
<text transform="scale(0.9333,1)" x="627.94" y="584.30" font-size="15.00" font-weight="bold" fill="#111" xml:space="preserve">5</text>
<text transform="scale(0.8933,1)" x="696.38" y="584.30" font-size="15.00" font-weight="bold" fill="#111" xml:space="preserve">5</text>
<text transform="scale(0.8462,1)" x="699.20 710.08 719.49 725.44 736.32" y="609.80" font-size="16.43" font-weight="bold" fill="#111" xml:space="preserve">45;40</text>
<text transform="scale(0.8476,1)" x="704.01 714.32 724.63" y="640.30" font-size="16.57" font-weight="bold" fill="#111" xml:space="preserve">300</text>
</svg>
</body></html>
